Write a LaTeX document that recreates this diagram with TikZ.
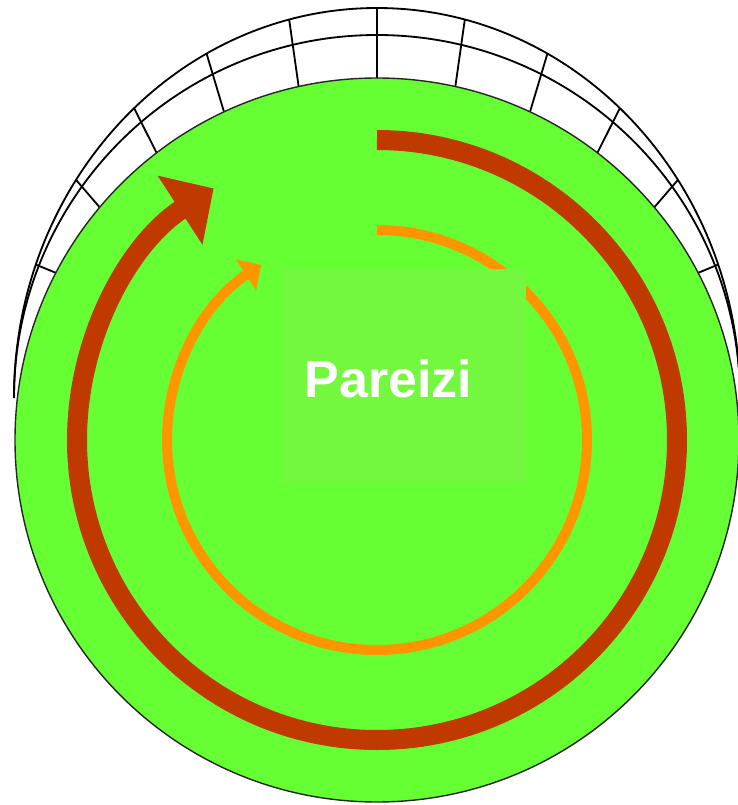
\documentclass[tikz,border=0pt]{standalone}
\usepackage{fontspec}
\setsansfont{Liberation Sans}
\usetikzlibrary{arrows.meta}
\definecolor{DomeGreen}{RGB}{102,255,51}
\definecolor{DomePatch}{RGB}{115,247,63}
\definecolor{DomeRust}{RGB}{192,58,0}
\definecolor{DomeAmber}{RGB}{255,150,0}
\tikzset{
  dome line/.style={draw=black, line width=1.3pt},
  dome disc/.style={fill=DomeGreen, draw=black!85, line width=1pt},
  dome patch/.style={
    fill=DomePatch,
    inner sep=0pt,
    minimum width=6.075cm,
    minimum height=5.325cm
  },
  dome word/.style={text=white, font=\fontsize{37}{40}\selectfont\sffamily\bfseries, inner sep=0pt, anchor=base},
  rust arrow/.style={-{Triangle[length=1cm,width=2cm]}, line width=0.5cm, draw=DomeRust},
  amber arrow/.style={-{Triangle[length=0.45cm,width=0.9cm]}, line width=0.25cm, draw=DomeAmber}
}
\begin{document}
\begin{tikzpicture}[x=0.025cm, y=0.025cm]
\useasboundingbox (-377,-365) rectangle (361,440);
\draw[dome line] (363,42) arc[start angle=0, end angle=180, x radius=363, y radius=390];
\draw[dome line] (363,42) arc[start angle=0, end angle=180, radius=363];
\foreach \k in {-5,...,5}
  \draw[dome line] ({363*cos(90+14*\k)},{42+390*sin(90+14*\k)}) -- ({362*cos(90+12.5*\k)},{362*sin(90+12.5*\k)});
\draw[dome disc] (0,0) circle[radius=362];
\draw[rust arrow] (0,300) arc[start angle=90, end angle=-237, radius=300];
\draw[amber arrow] (0,210) arc[start angle=90, end angle=-236.5, radius=210];
\node[dome patch] (patch) at (27.5,64.5) {};
\node[dome word] (word) at (11.5,43) {Pareizi};
\end{tikzpicture}
\end{document}
